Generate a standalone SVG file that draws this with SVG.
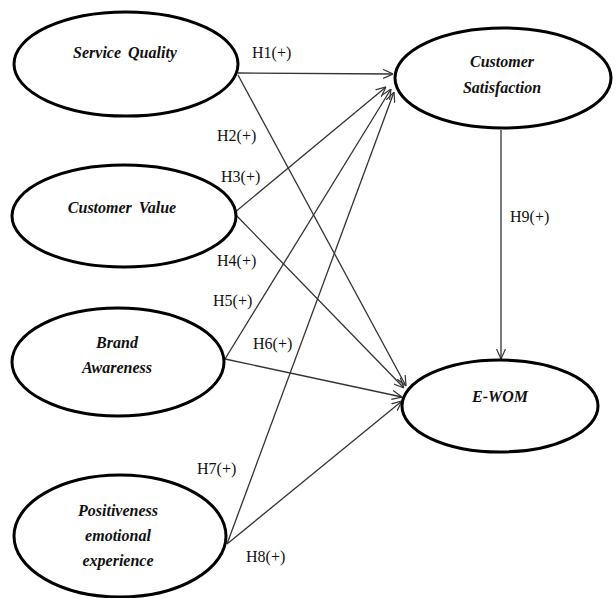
<svg xmlns="http://www.w3.org/2000/svg" width="616" height="598" viewBox="0 0 616 598">
<defs>
<marker id="arr" viewBox="0 0 10 10" refX="10" refY="5" markerWidth="10" markerHeight="10" markerUnits="userSpaceOnUse" orient="auto">
<path d="M0,0.5 L10,5 L0,9.5" fill="none" stroke="#333" stroke-width="1.2"/>
</marker>
<style>
.node ellipse{fill:#fff;stroke:#000;stroke-width:3}
.node text{font-family:"Liberation Serif","Times New Roman","DejaVu Serif",serif;font-style:italic;font-weight:bold;font-size:16px;text-anchor:middle;fill:#111;word-spacing:3px}
.edges line{stroke:#333;stroke-width:1.3;fill:none}
.edges line.a{marker-end:url(#arr)}
.lbl{font-family:"Liberation Serif","Times New Roman",serif;font-size:16px;fill:#111}
</style>
</defs>
<rect width="616" height="598" fill="#fff"/>
<g class="edges" id="connectors">
<line class="a" x1="238" y1="73" x2="393" y2="74"/>
<line class="a" x1="238" y1="75" x2="406" y2="386"/>
<line class="a" x1="234" y1="213" x2="386" y2="87"/>
<line class="a" x1="234" y1="213" x2="404" y2="388"/>
<line class="a" x1="225" y1="359" x2="391" y2="89"/>
<line class="a" x1="225" y1="359" x2="402" y2="397"/>
<line class="a" x1="227" y1="544" x2="394" y2="92"/>
<line class="a" x1="227" y1="544" x2="402" y2="401"/>
<line class="a" x1="501" y1="130" x2="501" y2="359"/>
</g>
<g class="labels">
<text class="lbl" x="252" y="58">H1(+)</text>
<text class="lbl" x="217" y="141">H2(+)</text>
<text class="lbl" x="221" y="182">H3(+)</text>
<text class="lbl" x="217" y="266">H4(+)</text>
<text class="lbl" x="213" y="306">H5(+)</text>
<text class="lbl" x="253" y="349">H6(+)</text>
<text class="lbl" x="197" y="474">H7(+)</text>
<text class="lbl" x="246" y="562">H8(+)</text>
<text class="lbl" x="510" y="222">H9(+)</text>
</g>
<g class="node" id="service-quality">
<ellipse cx="126" cy="64" rx="112" ry="52"/>
<text x="125" y="58">Service Quality</text>
</g>
<g class="node" id="customer-value">
<ellipse cx="124" cy="216" rx="112" ry="51"/>
<text x="122" y="213">Customer Value</text>
</g>
<g class="node" id="brand-awareness">
<ellipse cx="118" cy="362" rx="106" ry="54"/>
<text x="117" y="348">Brand</text>
<text x="117" y="373">Awareness</text>
</g>
<g class="node" id="positiveness">
<ellipse cx="120" cy="536" rx="106" ry="61"/>
<text x="118" y="516">Positiveness</text>
<text x="118" y="541">emotional</text>
<text x="118" y="566">experience</text>
</g>
<g class="node" id="customer-satisfaction">
<ellipse cx="503" cy="78" rx="108" ry="50"/>
<text x="502" y="67">Customer</text>
<text x="502" y="93">Satisfaction</text>
</g>
<g class="node" id="e-wom">
<ellipse cx="500" cy="406" rx="98" ry="46"/>
<text x="500" y="402">E-WOM</text>
</g>
</svg>
